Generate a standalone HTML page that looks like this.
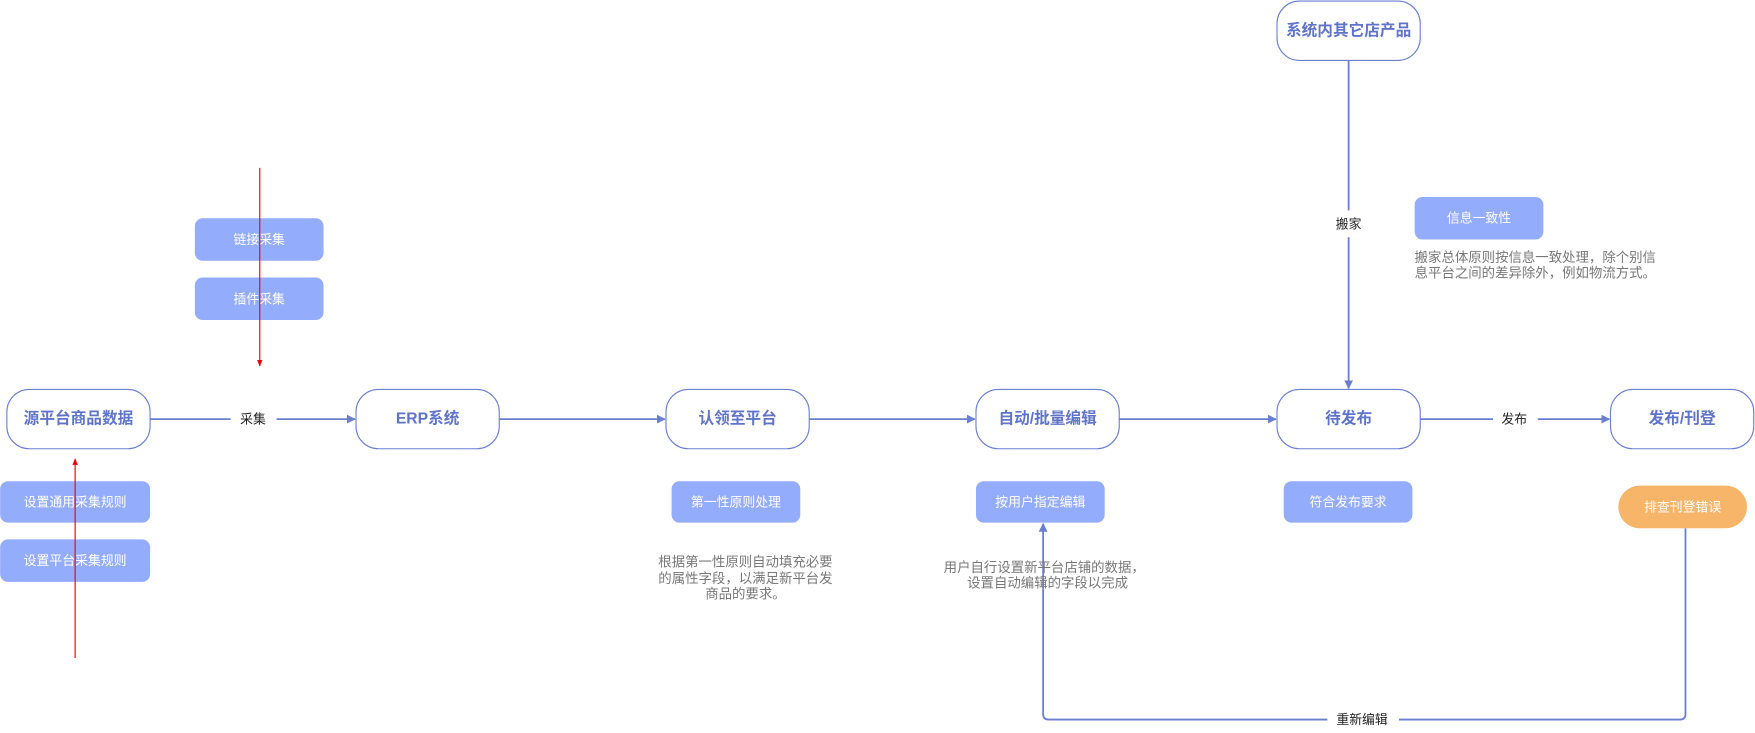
<!DOCTYPE html>
<html><head><meta charset="utf-8"><style>
html,body{margin:0;padding:0;background:#fff;width:1755px;height:733px;overflow:hidden}
text{font-family:"Liberation Sans","Noto Sans CJK SC",sans-serif}
.mb{fill:#fff;stroke:#6a7fd0;stroke-width:1}
.mt{fill:#5f73c9;font-size:14px;font-weight:bold;text-anchor:middle;dominant-baseline:central}
.lb{fill:#94acfc}
.lt{fill:#fff;font-size:11.5px;text-anchor:middle;dominant-baseline:central}
.ln{stroke:#6a7fd0;stroke-width:1.6;fill:none}
.cl{fill:#222;font-size:11.5px;text-anchor:middle;dominant-baseline:central}
.gt{fill:#777;font-size:12px;text-anchor:middle}
</style></head><body>
<svg width="1755" height="733" viewBox="0 0 1568 655" xmlns="http://www.w3.org/2000/svg">
<defs>
<marker id="a" viewBox="0 0 10 10" refX="9" refY="5" markerWidth="5" markerHeight="5" orient="auto"><path d="M0,0L10,5L0,10z" fill="#6a7fd0"/></marker>
<marker id="r" viewBox="0 0 10 10" refX="9" refY="5" markerWidth="6" markerHeight="6" orient="auto"><path d="M0,1L10,5L0,9z" fill="#e00"/></marker>
</defs>
<line class="ln" x1="134" y1="374.5" x2="206" y2="374.5"/>
<line class="ln" x1="247" y1="374.5" x2="317" y2="374.5" marker-end="url(#a)"/>
<text class="cl" x="226" y="374.5">采集</text>
<line class="ln" x1="446" y1="374.5" x2="594" y2="374.5" marker-end="url(#a)"/>
<line class="ln" x1="723" y1="374.5" x2="871" y2="374.5" marker-end="url(#a)"/>
<line class="ln" x1="1000" y1="374.5" x2="1140" y2="374.5" marker-end="url(#a)"/>
<line class="ln" x1="1269" y1="374.5" x2="1334" y2="374.5"/>
<line class="ln" x1="1374" y1="374.5" x2="1438" y2="374.5" marker-end="url(#a)"/>
<text class="cl" x="1353" y="374.5">发布</text>
<line class="ln" x1="1205" y1="54" x2="1205" y2="188"/>
<line class="ln" x1="1205" y1="212" x2="1205" y2="347" marker-end="url(#a)"/>
<text class="cl" x="1205" y="200">搬家</text>
<path class="ln" d="M1506,472V638Q1506,643 1501,643H1250"/>
<path class="ln" d="M1186,643H937Q932,643 932,638V468" marker-end="url(#a)"/>
<text class="cl" x="1217" y="643">重新编辑</text>
<rect class="mb" x="6" y="348" width="128" height="53" rx="20"/><text class="mt" x="70" y="374.5">源平台商品数据</text>
<rect class="mb" x="318" y="348" width="128" height="53" rx="20"/><text class="mt" x="382" y="374.5">ERP系统</text>
<rect class="mb" x="595" y="348" width="128" height="53" rx="20"/><text class="mt" x="659" y="374.5">认领至平台</text>
<rect class="mb" x="872" y="348" width="128" height="53" rx="20"/><text class="mt" x="936" y="374.5">自动/批量编辑</text>
<rect class="mb" x="1141" y="348" width="128" height="53" rx="20"/><text class="mt" x="1205" y="374.5">待发布</text>
<rect class="mb" x="1439" y="348" width="128" height="53" rx="20"/><text class="mt" x="1503" y="374.5">发布/刊登</text>
<rect class="mb" x="1141" y="1" width="128" height="53" rx="20"/><text class="mt" x="1205" y="27.5">系统内其它店产品</text>
<rect class="lb" x="174" y="195" width="115" height="38" rx="7"/><text class="lt" x="231.5" y="214">链接采集</text>
<rect class="lb" x="174" y="248" width="115" height="38" rx="7"/><text class="lt" x="231.5" y="267">插件采集</text>
<rect class="lb" x="0" y="430" width="134" height="37" rx="7"/><text class="lt" x="67" y="448.5">设置通用采集规则</text>
<rect class="lb" x="0" y="482" width="134" height="38" rx="7"/><text class="lt" x="67" y="501">设置平台采集规则</text>
<rect class="lb" x="600" y="430" width="115" height="37" rx="7"/><text class="lt" x="657.5" y="448.5">第一性原则处理</text>
<rect class="lb" x="872" y="430" width="115" height="37" rx="7"/><text class="lt" x="929.5" y="448.5">按用户指定编辑</text>
<rect class="lb" x="1147" y="430" width="115" height="37" rx="7"/><text class="lt" x="1204.5" y="448.5">符合发布要求</text>
<rect class="lb" x="1264" y="176" width="115" height="38" rx="7"/><text class="lt" x="1321.5" y="195">信息一致性</text>
<rect x="1446" y="434" width="115" height="38" rx="19" fill="#f7b56a"/><text class="lt" x="1503.5" y="453">排查刊登错误</text>
<line x1="232" y1="150" x2="232" y2="327" stroke="#e00" stroke-width="1" marker-end="url(#r)"/>
<line x1="67" y1="588" x2="67" y2="410" stroke="#e00" stroke-width="1" marker-end="url(#r)"/>
<text class="gt" x="666" y="506">根据第一性原则自动填充必要</text>
<text class="gt" x="666" y="521">的属性字段，以满足新平台发</text>
<text class="gt" x="666" y="535">商品的要求。</text>
<text class="gt" x="933" y="511">用户自行设置新平台店铺的数据，</text>
<text class="gt" x="936" y="525">设置自动编辑的字段以完成</text>
<text class="gt" x="1264" y="234" style="text-anchor:start">搬家总体原则按信息一致处理，除个别信</text>
<text class="gt" x="1264" y="248" style="text-anchor:start">息平台之间的差异除外，例如物流方式。</text>
</svg>
</body></html>
